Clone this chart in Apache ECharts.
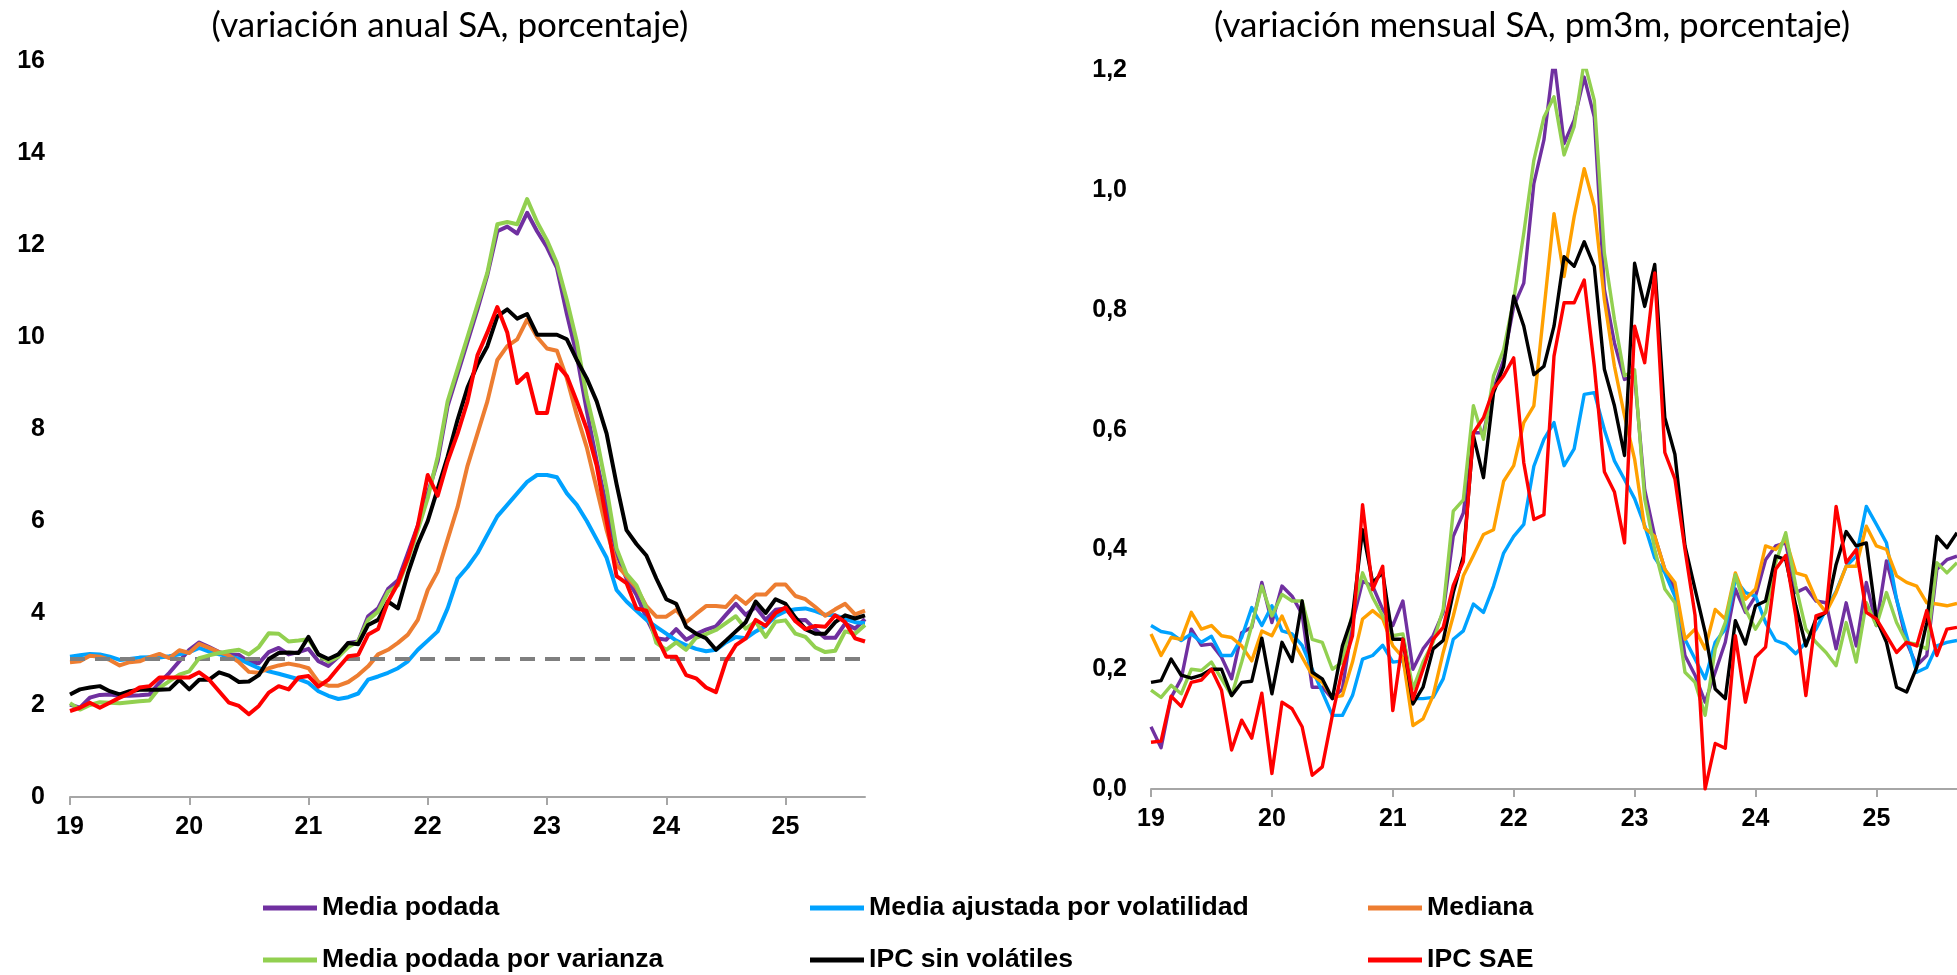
<!DOCTYPE html>
<html><head><meta charset="utf-8">
<script src="https://cdn.jsdelivr.net/npm/echarts@6/dist/echarts.min.js"></script>
<style>html,body{margin:0;padding:0;background:#fff}#c{width:1957px;height:975px}</style>
</head><body><div id="c"></div>
<script>
// ---------- DATA ----------
const yearLabels = ['19','20','21','22','23','24','25'];
const nPoints = 81; // Jan 2019 .. Sep 2025
const seriesNames = ['Media podada','Media ajustada por volatilidad','Mediana','Media podada por varianza','IPC sin volátiles','IPC SAE'];
const titleLeft = '(variación anual SA, porcentaje)';
const titleRight = '(variación mensual SA, pm3m, porcentaje)';
const refLine = 3;

// Left panel: annual change SA (%)
const L_mediaPodada = [
2.01,1.94,2.16,2.22,2.23,2.20,2.20,2.21,2.23,2.48,2.70,2.95,
3.20,3.36,3.26,3.15,3.10,3.09,2.93,2.91,3.15,3.24,3.10,3.15,
3.22,2.95,2.85,3.05,3.35,3.38,3.93,4.10,4.52,4.71,5.30,5.90,
6.60,7.30,8.50,9.20,9.90,10.60,11.35,12.30,12.40,12.25,12.70,12.30,
11.95,11.50,10.50,9.60,8.40,7.30,6.30,5.30,4.75,4.40,3.90,3.45,
3.42,3.65,3.42,3.54,3.64,3.71,3.96,4.20,3.96,4.13,3.85,4.07,
4.10,3.84,3.85,3.64,3.46,3.46,3.77,3.66,3.87];
const L_mediaAjustada = [
3.05,3.08,3.11,3.10,3.05,2.98,3.00,3.03,3.04,3.03,3.06,3.10,
3.15,3.24,3.16,3.10,3.06,3.00,2.90,2.80,2.73,2.68,2.62,2.56,
2.48,2.30,2.20,2.13,2.17,2.25,2.55,2.62,2.70,2.80,2.95,3.20,
3.40,3.60,4.10,4.75,5.00,5.30,5.70,6.10,6.35,6.60,6.85,7.00,
7.00,6.95,6.60,6.35,6.00,5.60,5.20,4.50,4.25,4.05,3.85,3.70,
3.55,3.40,3.30,3.22,3.17,3.20,3.36,3.48,3.45,3.60,3.72,3.93,
4.04,4.08,4.10,4.04,3.96,3.95,3.87,3.80,3.78];
const L_mediana = [
2.93,2.95,3.07,3.05,2.98,2.86,2.93,2.95,3.04,3.11,3.02,3.19,
3.13,3.33,3.24,3.15,3.08,2.93,2.72,2.70,2.80,2.86,2.90,2.86,
2.80,2.50,2.42,2.42,2.50,2.65,2.84,3.10,3.20,3.35,3.53,3.85,
4.50,4.90,5.60,6.30,7.20,7.90,8.60,9.50,9.80,9.95,10.38,10.00,
9.75,9.70,9.10,8.30,7.60,6.70,5.80,5.05,4.80,4.55,4.15,3.92,
3.92,4.07,3.80,3.98,4.15,4.15,4.13,4.37,4.20,4.40,4.40,4.62,
4.62,4.37,4.30,4.13,3.94,4.08,4.20,3.97,4.05];
const L_mediaVarianza = [
2.04,1.90,2.00,2.06,2.05,2.04,2.06,2.08,2.10,2.37,2.52,2.66,
2.73,3.02,3.08,3.13,3.17,3.20,3.10,3.26,3.56,3.55,3.38,3.40,
3.43,3.10,2.94,3.05,3.26,3.38,3.85,4.03,4.46,4.60,5.15,5.80,
6.50,7.40,8.60,9.30,10.00,10.70,11.40,12.45,12.50,12.45,13.00,12.50,
12.10,11.60,10.80,9.90,8.70,7.80,6.70,5.40,4.85,4.60,4.10,3.35,
3.20,3.36,3.20,3.46,3.54,3.63,3.78,3.93,3.66,3.81,3.48,3.81,
3.84,3.55,3.48,3.25,3.15,3.18,3.60,3.55,3.74];
const L_sinVolatiles = [
2.23,2.34,2.38,2.41,2.30,2.23,2.30,2.33,2.33,2.33,2.34,2.55,
2.34,2.55,2.55,2.71,2.64,2.50,2.51,2.65,3.00,3.13,3.14,3.13,
3.48,3.10,3.00,3.10,3.35,3.32,3.74,3.85,4.25,4.10,4.86,5.50,
6.00,6.70,7.40,8.20,8.90,9.40,9.80,10.45,10.60,10.40,10.50,10.05,
10.05,10.05,9.95,9.50,9.10,8.60,7.90,6.80,5.80,5.50,5.25,4.75,
4.30,4.20,3.70,3.55,3.45,3.20,3.40,3.60,3.80,4.25,4.00,4.30,
4.20,3.90,3.65,3.55,3.55,3.80,3.95,3.88,3.95];
const L_ipcSae = [
1.87,1.94,2.05,1.94,2.05,2.16,2.25,2.38,2.41,2.60,2.60,2.60,
2.60,2.71,2.55,2.30,2.05,1.98,1.80,1.98,2.27,2.41,2.34,2.60,
2.63,2.40,2.55,2.81,3.06,3.09,3.53,3.65,4.25,4.64,5.20,5.90,
7.00,6.55,7.30,7.90,8.60,9.60,10.10,10.65,10.10,9.00,9.20,8.35,
8.35,9.40,9.15,8.60,8.00,7.20,6.00,4.80,4.65,4.10,4.05,3.50,
3.05,3.05,2.65,2.58,2.38,2.28,2.95,3.30,3.45,3.85,3.72,4.00,
4.12,3.82,3.65,3.72,3.70,3.95,3.80,3.45,3.38];

// Right panel: monthly change SA, 3-month moving average (%)
const R_mediaPodada = [
0.104,0.069,0.153,0.184,0.267,0.240,0.242,0.220,0.184,0.261,0.270,0.345,
0.278,0.339,0.322,0.292,0.170,0.170,0.151,0.167,0.278,0.347,0.339,0.300,
0.273,0.314,0.200,0.234,0.256,0.295,0.422,0.461,0.595,0.595,0.668,0.717,
0.806,0.845,1.011,1.084,1.220,1.078,1.117,1.189,1.122,0.834,0.745,0.684,
0.690,0.500,0.422,0.367,0.334,0.223,0.190,0.145,0.195,0.245,0.334,0.295,
0.322,0.383,0.406,0.411,0.328,0.336,0.314,0.311,0.234,0.311,0.239,0.345,
0.273,0.381,0.317,0.245,0.206,0.223,0.367,0.383,0.389];
const R_mediaAjustada = [
0.273,0.263,0.260,0.248,0.259,0.245,0.255,0.223,0.223,0.253,0.303,0.273,
0.306,0.264,0.259,0.240,0.200,0.162,0.123,0.123,0.156,0.217,0.223,0.240,
0.212,0.214,0.151,0.151,0.153,0.184,0.250,0.264,0.309,0.295,0.339,0.394,
0.422,0.442,0.539,0.584,0.612,0.540,0.568,0.659,0.662,0.600,0.548,0.517,
0.485,0.440,0.386,0.361,0.322,0.250,0.217,0.184,0.245,0.267,0.350,0.328,
0.322,0.278,0.248,0.242,0.226,0.245,0.267,0.300,0.330,0.372,0.389,0.472,
0.442,0.411,0.317,0.256,0.195,0.203,0.239,0.245,0.248];
const R_mediana = [
0.259,0.223,0.253,0.250,0.295,0.267,0.273,0.256,0.253,0.239,0.214,0.264,
0.256,0.289,0.250,0.220,0.190,0.178,0.153,0.156,0.212,0.284,0.298,0.284,
0.239,0.220,0.106,0.117,0.156,0.228,0.289,0.356,0.390,0.425,0.433,0.514,
0.540,0.612,0.640,0.800,0.961,0.856,0.956,1.036,0.973,0.817,0.706,0.623,
0.551,0.436,0.422,0.367,0.345,0.250,0.267,0.234,0.300,0.284,0.361,0.317,
0.334,0.406,0.400,0.417,0.361,0.356,0.317,0.295,0.328,0.372,0.372,0.439,
0.406,0.400,0.356,0.345,0.339,0.311,0.309,0.306,0.310];
const R_mediaVarianza = [
0.165,0.153,0.173,0.159,0.200,0.198,0.212,0.184,0.156,0.212,0.273,0.339,
0.289,0.325,0.314,0.314,0.250,0.245,0.200,0.212,0.295,0.361,0.320,0.289,
0.256,0.259,0.167,0.212,0.245,0.300,0.464,0.483,0.640,0.584,0.690,0.734,
0.817,0.928,1.050,1.122,1.156,1.059,1.106,1.215,1.150,0.895,0.784,0.690,
0.700,0.485,0.400,0.334,0.311,0.195,0.178,0.123,0.234,0.278,0.358,0.300,
0.267,0.295,0.378,0.428,0.339,0.267,0.245,0.228,0.206,0.278,0.212,0.311,
0.273,0.328,0.278,0.245,0.242,0.234,0.378,0.361,0.378];
const R_sinVolatiles = [
0.178,0.181,0.217,0.190,0.185,0.190,0.200,0.200,0.156,0.178,0.180,0.252,
0.159,0.245,0.213,0.314,0.195,0.184,0.151,0.239,0.289,0.433,0.345,0.361,
0.250,0.250,0.142,0.170,0.234,0.248,0.328,0.389,0.590,0.520,0.662,0.706,
0.823,0.773,0.692,0.706,0.773,0.889,0.873,0.914,0.873,0.701,0.640,0.557,
0.878,0.806,0.876,0.620,0.559,0.406,0.334,0.262,0.167,0.151,0.281,0.242,
0.306,0.314,0.389,0.383,0.306,0.239,0.284,0.295,0.375,0.430,0.406,0.411,
0.284,0.245,0.170,0.162,0.203,0.278,0.422,0.403,0.428];
const R_ipcSae = [
0.078,0.080,0.155,0.138,0.178,0.182,0.200,0.165,0.065,0.115,0.085,0.160,
0.026,0.145,0.134,0.104,0.023,0.037,0.123,0.200,0.256,0.475,0.333,0.372,
0.131,0.250,0.150,0.200,0.250,0.270,0.340,0.380,0.595,0.620,0.668,0.690,
0.720,0.545,0.450,0.458,0.723,0.812,0.812,0.850,0.706,0.530,0.496,0.411,
0.773,0.712,0.862,0.562,0.518,0.400,0.290,0.000,0.076,0.068,0.256,0.145,
0.220,0.237,0.367,0.390,0.289,0.156,0.289,0.295,0.472,0.378,0.400,0.295,
0.284,0.256,0.228,0.245,0.239,0.298,0.223,0.267,0.270];

// ---------- BUILD ----------
const categories = [];
yearLabels.forEach(y => { for (let m = 1; m <= 12; m++) { if (categories.length < nPoints) categories.push(y + '-' + String(m).padStart(2, '0')); } });

const leftData = [L_mediaPodada, L_mediaAjustada, L_mediana, L_mediaVarianza, L_sinVolatiles, L_ipcSae];
const rightData = [R_mediaPodada, R_mediaAjustada, R_mediana, R_mediaVarianza, R_sinVolatiles, R_ipcSae];
const colorsL = ['#7030A0', '#00A2FF', '#ED7D31', '#92D050', '#000000', '#FF0000'];
const colorsR = ['#7030A0', '#00A2FF', '#FFA000', '#92D050', '#000000', '#FF0000'];

function hasFont(f) {
  const c = document.createElement('canvas').getContext('2d');
  const s = '0123456789abcdefMW';
  c.font = '40px monospace'; const a = c.measureText(s).width;
  c.font = '40px "' + f + '", monospace'; const b = c.measureText(s).width;
  return Math.abs(a - b) > 0.5;
}
const narrowOK = hasFont('Liberation Sans Narrow');
const axisFont = narrowOK ? '"Liberation Sans Narrow", "Liberation Sans", Arial, sans-serif' : '"Liberation Sans", Arial, sans-serif';
const axisSize = narrowOK ? 28 : 25;
const legendFont = '"Liberation Sans", Arial, sans-serif';
const titleFamily = 'Lato, "Open Sans", sans-serif';
function fitSize(text, family, target) {
  const ctx = document.createElement('canvas').getContext('2d');
  ctx.font = '100px ' + family;
  return 100 * target / ctx.measureText(text).width;
}
const tSize = fitSize(titleLeft, titleFamily, 477);

const isYearStart = (i) => i % 12 === 0;
function xAxisFor(gi) {
  return {
    type: 'category', gridIndex: gi, data: categories, boundaryGap: false,
    axisLine: { show: true, lineStyle: { color: '#A6A6A6', width: 2 } },
    axisTick: { show: true, interval: (i) => isYearStart(i), length: 8, inside: false, lineStyle: { color: '#A6A6A6', width: 2 } },
    axisLabel: { interval: (i) => isYearStart(i), formatter: (v, i) => yearLabels[Math.floor(i / 12)], margin: narrowOK ? 16 : 18,
      color: '#000', fontWeight: 'bold', fontSize: axisSize, fontFamily: axisFont },
    splitLine: { show: false }
  };
}
function yAxisFor(gi, max, interval, fmt, margin) {
  return {
    type: 'value', gridIndex: gi, min: 0, max: max, interval: interval,
    axisLine: { show: false }, axisTick: { show: false }, splitLine: { show: false },
    axisLabel: { formatter: fmt, margin: margin, color: '#000', fontWeight: 'bold', fontSize: axisSize, fontFamily: axisFont }
  };
}

const series = [];
seriesNames.forEach((n, k) => {
  const s = {
    name: n, type: 'line', xAxisIndex: 0, yAxisIndex: 0, data: leftData[k],
    showSymbol: false, symbol: 'none', smooth: false, clip: true,
    color: colorsL[k], lineStyle: { color: colorsL[k], width: 4, join: 'round' }, z: 2 + k
  };
  if (k === 0) {
    s.markLine = { silent: true, symbol: 'none', label: { show: false }, animation: false,
      lineStyle: { type: [15, 10], color: '#7F7F7F', width: 4 }, data: [{ yAxis: refLine }] };
  }
  series.push(s);
});
seriesNames.forEach((n, k) => {
  series.push({
    name: n, type: 'line', xAxisIndex: 1, yAxisIndex: 1, data: rightData[k],
    showSymbol: false, symbol: 'none', smooth: false, clip: true,
    color: colorsR[k], lineStyle: { color: colorsR[k], width: 3.4, join: 'round' }, z: 2 + k
  });
});

const legendX = [263, 810, 1368, 263, 810, 1368];
const legendY = [893, 893, 893, 945, 945, 945];
const legends = seriesNames.map((n, k) => ({
  data: [n], left: legendX[k], top: legendY[k], orient: 'horizontal', padding: 0, itemGap: 0,
  itemWidth: 54, itemHeight: 5, icon: 'rect', selectedMode: false,
  itemStyle: { color: colorsL[k] },
  textStyle: { fontFamily: legendFont, fontWeight: 'bold', fontSize: 26.6, color: '#000', lineHeight: 30 }
}));

const option = {
  animation: false,
  backgroundColor: '#ffffff',
  grid: [
    { left: 70, top: 61, width: 795, height: 736, containLabel: false },
    { left: 1151, top: 70.5, width: 806, height: 718.5, containLabel: false }
  ],
  xAxis: [xAxisFor(0), xAxisFor(1)],
  yAxis: [
    yAxisFor(0, 16, 2, (v) => String(v), 25),
    yAxisFor(1, 1.2, 0.2, (v) => v.toFixed(1).replace('.', ','), 24)
  ],
  legend: legends,
  graphic: [
    { type: 'text', x: 450, y: 26, style: { text: titleLeft, font: tSize.toFixed(1) + 'px ' + titleFamily, fill: '#000', align: 'center', verticalAlign: 'middle', textAlign: 'center', textVerticalAlign: 'middle' } },
    { type: 'text', x: 1532, y: 26, style: { text: titleRight, font: tSize.toFixed(1) + 'px ' + titleFamily, fill: '#000', align: 'center', verticalAlign: 'middle', textAlign: 'center', textVerticalAlign: 'middle' } }
  ],
  series: series
};
const chart = echarts.init(document.getElementById('c'), null, { renderer: 'canvas', width: 1957, height: 975 });
chart.setOption(option);
</script>
</body></html>
